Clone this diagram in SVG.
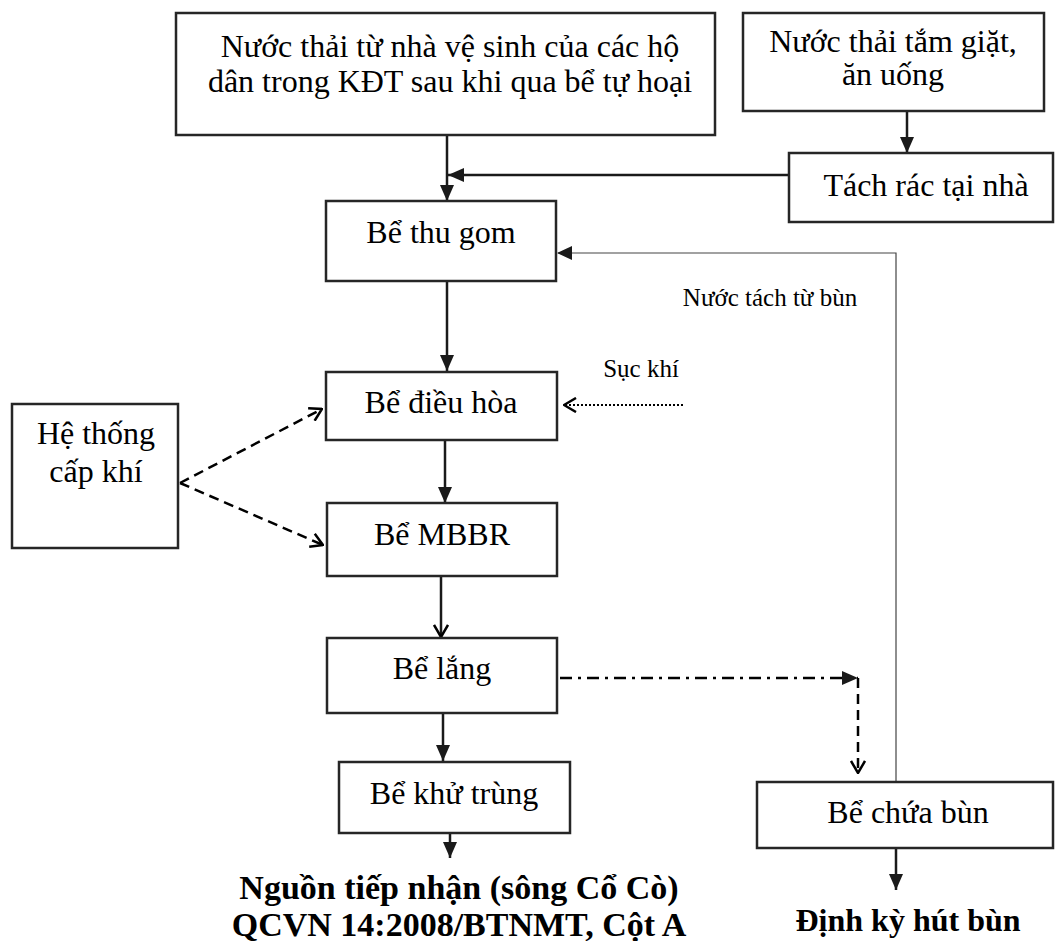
<svg xmlns="http://www.w3.org/2000/svg" width="1055" height="941" viewBox="0 0 1055 941">
<defs>
<style>
.box{fill:#fff;stroke:#262626;stroke-width:2.5}
.t{font-family:"Liberation Serif","Times New Roman",serif;font-size:32px;fill:#000;text-anchor:middle}
.s{font-family:"Liberation Serif","Times New Roman",serif;font-size:25px;fill:#000;text-anchor:middle}
.b{font-family:"Liberation Serif","Times New Roman",serif;font-size:34px;font-weight:bold;fill:#000;text-anchor:middle}
.ln{fill:none;stroke:#1a1a1a;stroke-width:2.5}
.thin{fill:none;stroke:#444;stroke-width:1.2}
.dash{fill:none;stroke:#000;stroke-width:2.5;stroke-dasharray:10 6}
.dot{fill:none;stroke:#000;stroke-width:2;stroke-dasharray:2 2}
.dd{fill:none;stroke:#000;stroke-width:2.5;stroke-dasharray:12 6 3 6}
</style>
<marker id="fa" viewBox="0 0 16 14" refX="16" refY="7" markerWidth="16" markerHeight="14" markerUnits="userSpaceOnUse" orient="auto"><path d="M0,0L16,7L0,14Z" fill="#1a1a1a"/></marker>
<marker id="oa" viewBox="0 0 14 16" refX="13" refY="8" markerWidth="14" markerHeight="16" markerUnits="userSpaceOnUse" orient="auto"><path d="M1,1L13,8L1,15" fill="none" stroke="#000" stroke-width="2.5"/></marker>
</defs>
<g id="connectors">
<path class="ln" d="M447,135V201" marker-end="url(#fa)"/>
<path class="ln" d="M788,175H448" marker-end="url(#fa)"/>
<path class="ln" d="M907,111V153" marker-end="url(#fa)"/>
<path class="thin" d="M896,782V253H558"/>
<path d="M557,253L572,246L572,260Z" fill="#1a1a1a"/>
<path class="ln" d="M447,281V371" marker-end="url(#fa)"/>
<path class="ln" d="M445,440V503" marker-end="url(#fa)"/>
<path class="ln" d="M441,576V637" marker-end="url(#oa)"/>
<path class="ln" d="M443,713V761" marker-end="url(#fa)"/>
<path class="ln" d="M450,833V858" marker-end="url(#fa)"/>
<path class="ln" d="M896,848V890" marker-end="url(#fa)"/>
<path class="dot" d="M683,405H564" marker-end="url(#oa)"/>
<path class="dash" d="M180,483L322,409" marker-end="url(#oa)"/>
<path class="dash" d="M180,483L323,545" marker-end="url(#oa)"/>
<path class="dd" d="M560,678H858" marker-end="url(#fa)"/>
<path class="dash" d="M858,678V773" marker-end="url(#oa)"/>
</g>
<g id="n1"><rect class="box" x="176" y="13" width="539" height="122"/><text class="t" x="450" y="57">Nước thải từ nhà vệ sinh của các hộ</text><text class="t" x="450" y="92">dân trong KĐT sau khi qua bể tự hoại</text></g>
<g id="n2"><rect class="box" x="743" y="13" width="301" height="98"/><text class="t" x="893" y="52">Nước thải tắm giặt,</text><text class="t" x="893" y="85">ăn uống</text></g>
<g id="n3"><rect class="box" x="789" y="153" width="264" height="69"/><text class="t" x="926" y="196">Tách rác tại nhà</text></g>
<g id="n4"><rect class="box" x="326" y="201" width="230" height="80"/><text class="t" x="441" y="243">Bể thu gom</text></g>
<g id="n5"><rect class="box" x="326" y="372" width="231" height="68"/><text class="t" x="441" y="413">Bể điều hòa</text></g>
<g id="n6"><rect class="box" x="12" y="404" width="166" height="144"/><text class="t" x="96" y="444">Hệ thống</text><text class="t" x="96" y="482">cấp khí</text></g>
<g id="n7"><rect class="box" x="327" y="503" width="230" height="73"/><text class="t" x="442" y="545">Bể MBBR</text></g>
<g id="n8"><rect class="box" x="327" y="638" width="230" height="75"/><text class="t" x="442" y="679">Bể lắng</text></g>
<g id="n9"><rect class="box" x="339" y="762" width="231" height="71"/><text class="t" x="454" y="804">Bể khử trùng</text></g>
<g id="n10"><rect class="box" x="757" y="782" width="296" height="66"/><text class="t" x="908" y="823">Bể chứa bùn</text></g>
<g id="n11"><text class="b" x="459" y="899">Nguồn tiếp nhận (sông Cổ Cò)</text><text class="b" x="459" y="936">QCVN 14:2008/BTNMT, Cột A</text></g>
<g id="n12"><text class="b" x="908" y="931" style="font-size:32px">Định kỳ hút bùn</text></g>
<g id="labels"><text class="s" x="770" y="306">Nước tách từ bùn</text><text class="s" x="641" y="377">Sục khí</text></g>
</svg>
